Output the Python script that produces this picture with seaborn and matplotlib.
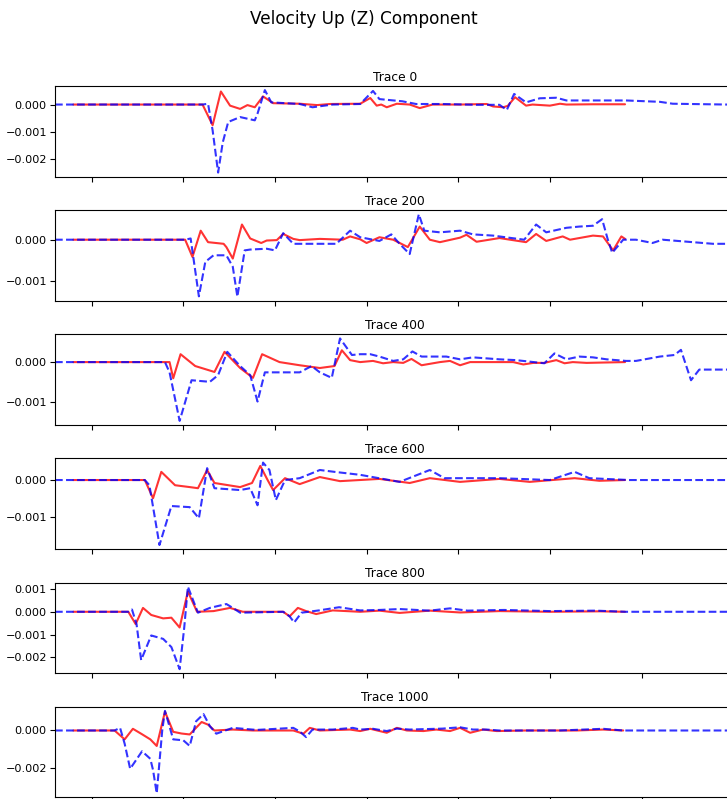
import matplotlib
matplotlib.use("Agg")
import matplotlib.pyplot as plt
from matplotlib.ticker import MultipleLocator
import numpy as np
import pandas as pd
import seaborn as sns

# ---------------- data (time in s, velocity) ----------------
TRACES = [0, 200, 400, 600, 800, 1000]

T0_RED_X = [8.0, 22.1, 23.2, 24.1, 25.1, 26.2, 27.0, 27.8, 28.7, 29.8, 32.7, 34.6, 36.0, 39.3, 40.4, 41.1,
            41.6, 42.2, 43.3, 44.7, 45.8, 47.2, 50.2, 53.1, 53.8, 54.9, 55.4, 56.2, 57.4, 58.1, 60.0, 61.1,
            61.8, 64.7, 68.2]
T0_RED_Y = [0, 0, -0.00076, 0.00048, -0.00004, -0.00016, -0.00002, -0.0001, 0.0003, 0.00005, 0.00003,
            -0.00002, 0.00002, 0.00003, 0.00024, -0.00004, 0.0, -0.0001, 0.00003, 0.0, -0.00013, 0.0, 0.0,
            0.00002, -0.00007, -0.0001, -0.00005, 0.00027, -0.00004, 0.0, -0.00004, 0.00003, 0.0, 0.00001,
            0.00001]
T0_BLUE_X = [6.0, 22.1, 22.7, 23.2, 23.8, 24.3, 24.9, 26.2, 27.8, 28.1, 28.9, 29.6, 32.7, 34.1, 36.3, 39.3,
             40.7, 41.4, 43.9, 45.4, 48.3, 52.0, 54.5, 55.3, 56.1, 57.4, 58.9, 60.7, 61.8, 68.3, 72.0, 73.4,
             79.3, 81.0]
T0_BLUE_Y = [0, 0, 0.00003, -0.00095, -0.0025, -0.0014, -0.00064, -0.00046, -0.00058, -0.00033, 0.00053,
             0.00008, 0.00002, -0.0001, 0.0, 0.00002, 0.0005, 0.0002, 0.00012, 0.00002, 0.00002, -0.00001,
             -0.00001, -0.0002, 0.00039, 0.00008, 0.00023, 0.00025, 0.00015, 0.00015, 0.0001, 0.00003, 0.0,
             0.0]

T200_RED_X = [8.0, 20.2, 21.0, 21.9, 22.7, 24.4, 24.7, 25.4, 26.4, 27.3, 28.5, 29.1, 30.2, 30.9, 32.0, 32.7,
              34.9, 37.4, 38.2, 39.3, 40.0, 41.4, 42.9, 44.5, 45.8, 46.9, 48.0, 50.2, 50.9, 52.0, 54.5, 57.4,
              58.5, 59.6, 61.4, 62.2, 64.7, 65.8, 66.9, 67.8, 68.2]
T200_RED_Y = [0, 0, -0.00042, 0.00022, -0.00006, -0.0001, -0.00018, -0.00046, 0.00037, 0.00003, -0.00008,
              -0.00002, -0.00001, 0.00014, 0.00002, -0.00001, 0.00002, 0.0, 0.00008, 0.00001, -0.00008,
              0.00006, 0.0, -0.00018, 0.00032, 0.0, -0.00006, 0.00005, 0.00012, -0.00005, 0.00004, -0.00006,
              0.00014, -0.00003, 0.00008, 0.0, 0.0001, 0.00008, -0.00026, 0.00008, 0.00002]
T200_BLUE_X = [6.0, 20.2, 20.8, 21.7, 22.4, 23.3, 24.7, 25.4, 25.9, 26.7, 27.3, 29.1, 30.0, 30.9, 32.0, 36.7,
               38.2, 39.3, 41.4, 42.7, 43.6, 44.7, 45.7, 46.3, 48.0, 50.2, 51.6, 53.8, 57.2, 58.5, 59.6, 61.8,
               63.2, 64.7, 65.7, 66.3, 66.8, 68.0, 69.4, 71.2, 72.3, 75.6, 77.8, 81.0]
T200_BLUE_Y = [0, 0, 0.00003, -0.00138, -0.00054, -0.00038, -0.00038, -0.00066, -0.00139, -0.00026,
               -0.00024, -0.00022, -0.00026, 0.00016, -0.0001, -0.0001, 0.00022, 0.00006, -0.00003, 0.00013,
               -0.0001, -0.00035, 0.00062, 0.00022, 0.00018, 0.00022, 0.00013, 0.0001, 0.0, 0.00037, 0.00018,
               0.00029, 0.00032, 0.00034, 0.0005, 0.00002, -0.00032, 0.0, 0.0, -0.00008, 0.0, -0.00006,
               -0.0001, -0.0001]

T400_RED_X = [8.0, 18.5, 18.9, 19.7, 21.3, 23.4, 24.5, 26.2, 27.6, 28.6, 30.5, 32.7, 34.9, 36.5, 37.3, 38.2,
              39.3, 40.7, 41.8, 42.9, 44.0, 44.9, 46.0, 48.0, 49.1, 50.2, 51.3, 56.0, 57.1, 58.2, 59.4, 60.7,
              61.6, 62.5, 64.0, 68.2]
T400_RED_Y = [0, 0, -0.00041, 0.0002, -0.0001, -0.00025, 0.00026, -0.00015, -0.0004, 0.0002, 0.0, -0.00008,
              -0.00015, -0.0001, 0.0003, 0.00005, 0.0, 0.00003, -0.00003, 0.0, -0.00002, 0.00008, -0.00008,
              0.0, 0.00003, -0.00008, 0.0, 0.0, -0.00006, -0.00002, -0.00002, 0.00005, -0.00003, 0.0,
              -0.00002, 0.0]
T400_BLUE_X = [6.0, 18.0, 18.5, 19.6, 20.9, 22.9, 23.8, 24.8, 26.2, 27.3, 28.1, 28.9, 29.7, 32.7, 34.0, 34.9,
               36.2, 37.1, 38.4, 39.3, 40.4, 41.4, 42.9, 44.0, 45.0, 46.0, 48.7, 50.2, 51.6, 54.5, 56.3, 59.4,
               60.5, 61.8, 63.2, 64.7, 66.2, 68.3, 69.4, 72.0, 73.6, 74.3, 75.4, 76.3, 79.3, 81.0]
T400_BLUE_Y = [0, 0, -0.00026, -0.00149, -0.00046, -0.0005, -0.00033, 0.00026, -0.0001, -0.00033, -0.001,
               -0.00026, -0.00026, -0.00026, -0.0001, -0.00026, -0.0004, 0.0006, 0.00018, 0.0002, 0.0002,
               0.00014, 0.00003, 0.00007, 0.00027, 0.00014, 0.00014, 0.00007, 0.00012, 0.00007, 0.00005,
               -0.00003, 0.00022, 0.00007, 0.00014, 0.00012, 0.00007, 0.00003, 0.00003, 0.00014, 0.00018,
               0.00031, -0.00046, -0.00019, -0.00019, -0.00019]

T600_RED_X = [8.0, 15.8, 16.7, 17.6, 19.1, 20.7, 21.6, 22.6, 23.4, 26.2, 27.5, 28.4, 29.2, 29.8, 31.1, 32.7,
              34.9, 37.1, 41.4, 44.7, 46.9, 50.2, 54.5, 57.8, 62.7, 65.4, 68.2]
T600_RED_Y = [0, 0, -0.00049, 0.00022, -0.00014, -0.00019, -0.00022, 0.00027, -0.00008, -0.00019, -0.00008,
              0.00038, 0.0, -0.00027, 0.00005, -0.00011, 0.00008, -0.00003, 0.00003, -0.00008, 0.00005,
              -0.00005, 0.00003, -0.00005, 0.00005, -0.00002, 0.0]
T600_BLUE_X = [6.0, 15.8, 16.3, 17.4, 18.7, 20.7, 21.7, 22.6, 23.4, 26.2, 27.3, 28.1, 28.7, 29.4, 30.1, 31.1,
               32.7, 34.9, 36.5, 39.3, 43.6, 46.9, 48.5, 54.5, 60.0, 62.7, 64.3, 68.7, 81.0]
T600_BLUE_Y = [0, 0, -0.00014, -0.00175, -0.0007, -0.00073, -0.00103, 0.00032, -0.00022, -0.00027, -0.00022,
               -0.00068, 0.00047, 0.00027, -0.00054, 0.0, 0.00005, 0.00027, 0.00022, 0.00014, -0.00005,
               0.00027, 0.00005, 0.00005, 0.0, 0.00022, 0.00005, 0.0, 0.0]

T800_RED_X = [8.0, 14.0, 14.8, 15.6, 16.5, 17.8, 18.7, 19.6, 20.5, 21.5, 23.3, 25.1, 26.5, 30.9, 31.6, 32.5,
              33.4, 34.5, 36.3, 37.8, 39.3, 41.4, 43.6, 46.9, 50.2, 54.5, 60.0, 65.4, 68.2]
T800_RED_Y = [0, 0, -0.00054, 0.00017, -0.00014, -0.00029, -0.00026, -0.00069, 0.00089, 0.0, 0.00003,
              0.00017, 0.0, 0.0, -0.0002, 0.00017, 0.00003, -0.0001, 0.00006, 0.00003, 0.0, 0.00005,
              -0.00005, 0.00005, -0.00003, 0.00003, 0.0, 0.00002, 0.0]
T800_BLUE_X = [6.0, 14.0, 14.4, 14.9, 15.4, 16.5, 17.8, 18.7, 19.6, 20.1, 20.5, 21.6, 22.9, 24.7, 25.4, 26.2,
               30.9, 31.6, 32.1, 32.9, 34.8, 37.0, 39.3, 41.4, 43.6, 46.9, 49.1, 51.0, 55.0, 60.0, 65.0, 68.2,
               81.0]
T800_BLUE_Y = [0, 0, 0.0001, -0.00055, -0.00212, -0.00104, -0.00119, -0.00155, -0.00252, -0.0007, 0.0011,
               -0.00004, 0.00017, 0.00034, 0.00017, -0.00004, 0.0, -0.0002, -0.00047, -0.00004, 0.00006,
               0.0002, 0.00006, 0.00008, 0.00012, 0.00005, 0.00015, 0.00005, 0.00008, 0.00003, 0.00005, 0.0,
               0.0]

T1000_RED_X = [8.0, 12.5, 13.6, 14.5, 15.5, 16.4, 17.1, 18.0, 18.9, 19.8, 20.7, 22.0, 22.7, 23.4, 25.4, 27.6,
               32.0, 33.1, 33.8, 34.9, 38.2, 39.3, 40.4, 42.2, 43.3, 44.4, 46.2, 47.6, 49.1, 50.2, 51.3, 52.7,
               54.2, 57.4, 62.9, 65.8, 68.0]
T1000_RED_Y = [0, 0, -0.00047, 0.00009, -0.0002, -0.00047, -0.00082, 0.001, -0.00007, -0.00016, -0.00021,
               0.00045, 0.00031, 0.0, 0.00005, 0.0, 0.0, -0.00017, 0.00014, 0.0, 0.00005, -0.00003, 0.00009,
               -0.00012, 0.00014, 0.0, -0.00003, 0.00005, -0.00003, 0.00014, -0.00012, 0.00005, -0.00003, 0.0,
               0.0, 0.00005, 0.0]
T1000_BLUE_X = [6.0, 12.5, 13.1, 13.6, 14.2, 15.5, 16.4, 16.7, 17.1, 17.7, 18.0, 18.9, 20.0, 20.7, 21.4, 22.2,
                22.9, 23.6, 25.4, 28.0, 32.0, 32.7, 33.4, 34.1, 36.3, 38.5, 39.3, 40.7, 42.2, 43.3, 44.7, 48.3,
                50.2, 51.6, 53.1, 54.5, 61.1, 65.8, 68.0, 81.0]
T1000_BLUE_Y = [0, 0, 0.00014, -0.0007, -0.00203, -0.0011, -0.0015, -0.0021, -0.00333, 0.0, 0.00104,
                -0.00047, -0.00052, -0.00082, 0.00049, 0.00087, 0.00023, -0.00017, 0.00014, 0.00003, 0.00014,
                -0.00005, -0.00035, 0.00005, 0.00005, 0.00014, 0.00005, 0.00009, -0.00003, 0.0001, 0.00005,
                0.0001, 0.00017, 0.00005, 0.00005, 0.0, 0.0, 0.00009, 0.0, 0.0]

RED_X = [T0_RED_X, T200_RED_X, T400_RED_X, T600_RED_X, T800_RED_X, T1000_RED_X]
RED_Y = [T0_RED_Y, T200_RED_Y, T400_RED_Y, T600_RED_Y, T800_RED_Y, T1000_RED_Y]
BLUE_X = [T0_BLUE_X, T200_BLUE_X, T400_BLUE_X, T600_BLUE_X, T800_BLUE_X, T1000_BLUE_X]
BLUE_Y = [T0_BLUE_Y, T200_BLUE_Y, T400_BLUE_Y, T600_BLUE_Y, T800_BLUE_Y, T1000_BLUE_Y]

X_TICKS = [10, 20, 30, 40, 50, 60, 70, 80]
Y_TICK_STEP = [0.001, 0.001, 0.001, 0.001, 0.001, 0.002]

# ---------------- figure ----------------
sns.set_style("ticks", {"axes.edgecolor": "black", "xtick.color": "black", "ytick.color": "black",
                        "text.color": "black", "axes.labelcolor": "black"})
plt.rcParams["font.family"] = ["DejaVu Sans"]

W, H = 727, 799
fig = plt.figure(figsize=(W / 100, H / 100), dpi=100)

left_px, right_px = 55, 735
panel_h = 90.7
for i, trace in enumerate(TRACES):
    top_px = 86 + 124.15 * i
    ax = fig.add_axes([left_px / W, 1 - (top_px + panel_h) / H, (right_px - left_px) / W, panel_h / H])
    df_r = pd.DataFrame({"t": RED_X[i], "v": RED_Y[i]})
    df_b = pd.DataFrame({"t": BLUE_X[i], "v": BLUE_Y[i]})
    sns.lineplot(data=df_r, x="t", y="v", ax=ax, color="red", alpha=0.8, lw=1.5,
                 estimator=None, sort=False)
    sns.lineplot(data=df_b, x="t", y="v", ax=ax, color="blue", alpha=0.8, lw=1.5,
                 linestyle="--", estimator=None, sort=False)
    ax.set_xlim(6, 80.2)
    ax.set_xticks(X_TICKS)
    ax.yaxis.set_major_locator(MultipleLocator(Y_TICK_STEP[i]))
    ax.set_xlabel("")
    ax.set_ylabel("")
    ax.tick_params(axis="x", labelbottom=False, length=3.5, width=0.8)
    ax.tick_params(axis="y", labelsize=8.1, length=3.5, width=0.8, pad=2.4)
    for s in ax.spines.values():
        s.set_linewidth(0.8)
        s.set_color("black")
    ax.set_title(f"Trace {trace}", fontsize=8.8, pad=3.8)

fig.suptitle("Velocity Up (Z) Component", fontsize=12.2, y=1 - 10 / H, va="top")
fig.savefig("out.png", dpi=100)
